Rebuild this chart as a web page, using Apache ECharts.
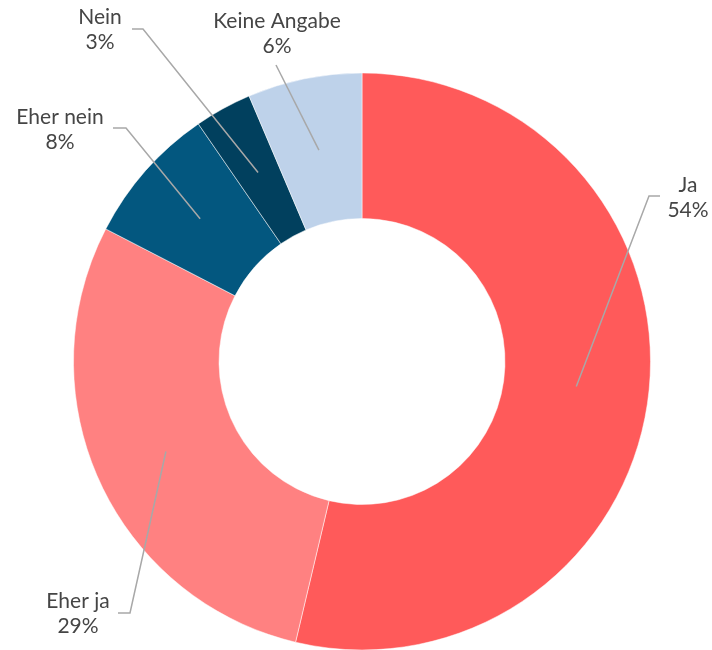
<!DOCTYPE html>
<html>
<head>
<meta charset="utf-8">
<script src="https://cdn.jsdelivr.net/npm/echarts@6/dist/echarts.min.js"></script>
<style>
  html, body { margin: 0; padding: 0; background: #fff; }
  #chart { width: 712px; height: 650px; }
</style>
</head>
<body>
<div id="chart"></div>
<script>
// antworten
var categories = ['Ja', 'Eher ja', 'Eher nein', 'Nein', 'Keine Angabe'];
var values = [53.7, 28.9, 7.8, 3.2, 6.4];
var colors = ['#ff5a5a', '#ff8181', '#03577f', '#01405e', '#bed2ea'];

// label placement (text centre, elbow, end of leader line)
var labelPos = [[688, 198], [78, 614], [60, 130], [100, 30], [277, 34]];
var elbows = [[649, 196], [130, 613], [126, 128], [143, 29], [276, 65]];
var lineEnds = [[660, 196], [118, 613], [113, 128], [132, 29], [276, 65]];

var cx = 362, cy = 361.5, rIn = 143, rOut = 288.5;

function initChart(domId) {
    var myChart = echarts.init(document.getElementById(domId));
    var total = values.reduce(function (a, b) { return a + b; }, 0);

    var pieData = categories.map(function (name, i) {
        return { name: name, value: values[i], itemStyle: { color: colors[i] } };
    });

    var option = {
        animation: false,
        series: [
            {
                // the ring itself
                type: 'pie',
                z: 2,
                center: [cx, cy],
                radius: [rIn, rOut],
                startAngle: 90,
                clockwise: true,
                silent: true,
                itemStyle: {
                    borderColor: '#ffffff',
                    borderWidth: 0.5
                },
                label: { show: false },
                labelLine: { show: false },
                data: pieData
            },
            {
                // transparent copy on top, only for labels + leader lines
                type: 'pie',
                z: 5,
                center: [cx, cy],
                radius: [rIn, rOut],
                startAngle: 90,
                clockwise: true,
                silent: true,
                avoidLabelOverlap: false,
                percentPrecision: 0,
                itemStyle: {
                    color: 'rgba(0,0,0,0)',
                    borderWidth: 0
                },
                label: {
                    show: true,
                    position: 'outside',
                    formatter: '{b}\n{d}%',
                    fontFamily: 'Lato',
                    fontSize: 21,
                    lineHeight: 25,
                    color: '#454545',
                    align: 'center'
                },
                labelLine: {
                    show: true,
                    lineStyle: { color: '#a8a8a8', width: 1.5 }
                },
                labelLayout: function (params) {
                    var i = params.dataIndex;
                    var before = 0;
                    for (var k = 0; k < i; k++) before += values[k];
                    var mid = (before + values[i] / 2) / total * Math.PI * 2;
                    var rm = (rIn + rOut) / 2;
                    var start = [cx + rm * Math.sin(mid), cy - rm * Math.cos(mid)];
                    return {
                        x: labelPos[i][0],
                        y: labelPos[i][1],
                        align: 'center',
                        verticalAlign: 'middle',
                        labelLinePoints: [start, elbows[i], lineEnds[i]]
                    };
                },
                data: categories.map(function (name, i) {
                    return { name: name, value: values[i] };
                })
            }
        ]
    };
    myChart.setOption(option);
}

initChart('chart');
</script>
</body>
</html>
